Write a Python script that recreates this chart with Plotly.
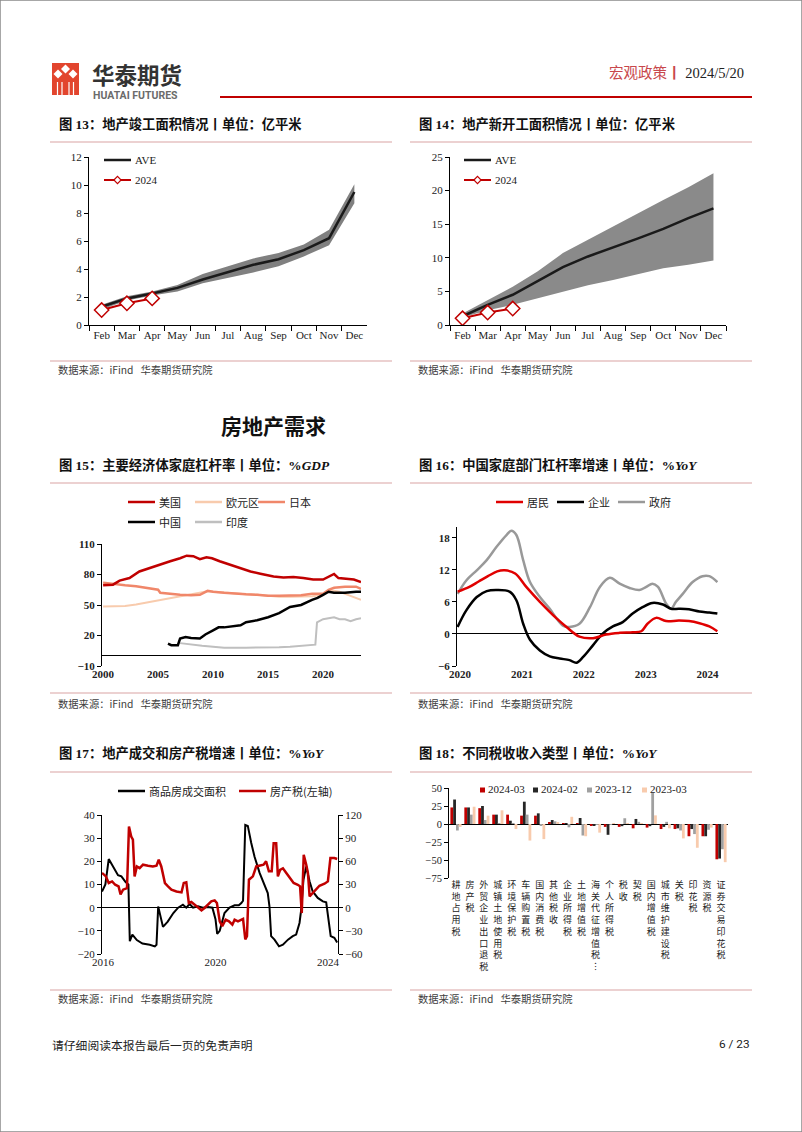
import plotly.graph_objects as go

W, H = 802, 1132
def fx(x): return x / W
def fy(y): return 1 - y / H

SERIF = "Liberation Serif, Noto Sans CJK SC"
SANS = "Noto Sans CJK SC, Noto Sans"
RED = "#C00000"
SEP = "#D9A3A3"
TXT = "#222222"

# ---------------- data ----------------
months = ["Feb", "Mar", "Apr", "May", "Jun", "Jul", "Aug", "Sep", "Oct", "Nov", "Dec"]
c13_ave = [1.3, 1.9, 2.25, 2.65, 3.25, 3.8, 4.3, 4.7, 5.35, 6.2, 9.5]
c13_low = [1.1, 1.75, 2.1, 2.4, 2.98, 3.35, 3.75, 4.2, 4.9, 5.7, 8.7]
c13_high = [1.45, 2.05, 2.4, 2.85, 3.65, 4.2, 4.75, 5.15, 5.75, 6.8, 10.05]
c13_2024 = [1.07, 1.55, 1.9]

c14_ave = [1.3, 3.0, 4.5, 6.5, 8.6, 10.2, 11.5, 12.9, 14.3, 15.9, 17.35]
c14_low = [1.1, 2.2, 3.0, 4.0, 5.0, 5.9, 6.7, 7.55, 8.45, 8.95, 9.6]
c14_high = [1.7, 3.7, 5.7, 8.0, 10.7, 12.7, 14.7, 16.7, 18.6, 20.5, 22.6]
c14_2024 = [1.0, 1.85, 2.45]

c15_us = [(2000.0, 69.5), (2000.9, 70), (2001.5, 74), (2002.4, 76.5), (2003.3, 83), (2004.25, 86.4),
          (2005.0, 89.7), (2006.1, 93), (2007.0, 96), (2007.6, 98.5), (2008.2, 98), (2008.8, 95),
          (2009.4, 97), (2009.9, 96), (2010.6, 93), (2011.5, 89.7), (2012.5, 85.7), (2013.4, 83),
          (2014.3, 80.8), (2015.0, 79), (2015.5, 78), (2016.4, 77), (2017.3, 77.5), (2018.2, 76.5),
          (2019.1, 75), (2020.0, 75), (2020.5, 78), (2021.0, 80.5), (2021.4, 76.5), (2022.2, 76),
          (2022.8, 75), (2023.45, 72.6)]
c15_ez = [(2000.0, 48.5), (2001.0, 48.5), (2002.0, 49), (2003.0, 50.5), (2004.0, 52.5), (2005.0, 55),
          (2006.0, 57), (2007.0, 59), (2008.0, 60.5), (2009.0, 62.5), (2009.5, 63.5), (2010.0, 63),
          (2011.0, 62), (2012.0, 61), (2013.0, 60.5), (2014.0, 60), (2015.0, 59), (2016.0, 58),
          (2017.0, 58), (2018.0, 58), (2019.0, 58.5), (2020.0, 60), (2020.5, 64), (2021.0, 64),
          (2021.5, 63), (2022.0, 61), (2022.5, 59), (2023.0, 57), (2023.45, 55)]
c15_jp = [(2000.0, 72), (2001.0, 70.5), (2002.0, 69.5), (2003.0, 68.5), (2004.0, 67), (2005.0, 65),
          (2005.2, 62), (2006.0, 61), (2007.0, 60), (2008.0, 59.5), (2008.8, 60), (2009.5, 64),
          (2010.0, 63), (2011.0, 62), (2012.0, 61), (2013.0, 60.5), (2014.0, 60), (2015.0, 59),
          (2016.0, 59), (2017.0, 59), (2018.0, 59.5), (2019.0, 61), (2020.0, 61), (2020.5, 65),
          (2021.0, 67), (2022.0, 68), (2023.0, 68), (2023.45, 66)]
c15_cn = [(2005.9, 12), (2006.2, 10.5), (2006.8, 10.5), (2007.0, 17), (2007.5, 18.5), (2008.0, 17.5),
          (2008.8, 17), (2009.3, 21), (2010.0, 25), (2010.5, 28), (2011.0, 28), (2012.0, 29),
          (2012.5, 30), (2013.0, 33), (2014.0, 35), (2015.0, 38), (2016.0, 42), (2017.0, 48),
          (2018.0, 50), (2019.0, 55), (2019.5, 57), (2020.0, 60), (2020.5, 63), (2021.0, 62),
          (2022.0, 62), (2023.0, 63), (2023.45, 63)]
c15_in = [(2007.0, 12.5), (2008.0, 11), (2009.0, 10), (2010.0, 9), (2011.0, 8), (2013.0, 8),
          (2015.0, 8), (2016.0, 8.5), (2017.0, 9), (2018.0, 10), (2019.3, 11), (2019.45, 33),
          (2020.0, 36), (2020.5, 37), (2021.0, 38), (2021.5, 36), (2022.0, 36), (2022.5, 34),
          (2023.0, 36), (2023.45, 37)]

c16_res = [(2019.96, 7.9), (2020.15, 8.8), (2020.3, 9.8), (2020.45, 10.8), (2020.6, 11.7), (2020.72, 11.9),
           (2020.89, 11.3), (2021.07, 8.8), (2021.29, 6.0), (2021.56, 2.9), (2021.72, 1.3), (2021.93, -0.5),
           (2022.15, -0.8), (2022.36, -0.1), (2022.58, 0.2), (2022.79, 0.3), (2022.93, 0.5), (2023.03, 1.9),
           (2023.17, 3.0), (2023.33, 2.4), (2023.54, 2.5), (2023.7, 2.4), (2023.87, 2.0), (2024.03, 1.4),
           (2024.16, 0.5)]
c16_ent = [(2019.96, 1.3), (2020.1, 4.4), (2020.27, 6.9), (2020.43, 8.0), (2020.59, 8.2), (2020.8, 7.9),
           (2020.91, 6.3), (2021.02, 1.9), (2021.13, -1.1), (2021.29, -3.1), (2021.45, -4.2), (2021.61, -4.6),
           (2021.77, -4.9), (2021.88, -5.4), (2021.99, -4.3), (2022.15, -2.1), (2022.31, 0.1), (2022.47, 1.4),
           (2022.63, 2.2), (2022.79, 3.8), (2022.95, 5.0), (2023.11, 5.8), (2023.28, 5.5), (2023.41, 4.7),
           (2023.54, 4.7), (2023.7, 4.6), (2023.87, 4.2), (2024.03, 4.0), (2024.16, 3.8)]
c16_gov = [(2019.96, 7.5), (2020.1, 10.0), (2020.27, 11.9), (2020.43, 13.8), (2020.59, 16.3), (2020.75, 18.5),
           (2020.83, 19.3), (2020.91, 18.5), (2021.02, 13.8), (2021.13, 9.7), (2021.29, 6.9), (2021.45, 4.7),
           (2021.56, 2.9), (2021.67, 1.5), (2021.77, 1.3), (2021.93, 1.9), (2022.1, 5.0), (2022.26, 8.8),
           (2022.42, 10.5), (2022.58, 9.4), (2022.74, 8.6), (2022.9, 8.2), (2023.01, 8.8), (2023.11, 9.4),
           (2023.2, 8.8), (2023.33, 5.7), (2023.41, 4.7), (2023.49, 6.0), (2023.6, 7.5), (2023.76, 9.7),
           (2023.92, 10.8), (2024.03, 10.8), (2024.16, 9.7)]

c17_area = [(2015.96, 7), (2016.08, 10), (2016.2, 21), (2016.4, 17), (2016.53, 14), (2016.65, 13.5),
            (2016.8, 11), (2016.9, 10), (2016.95, -14.5), (2017.04, -11.6), (2017.2, -14), (2017.4, -15.5),
            (2017.66, -16), (2017.84, -16.7), (2017.9, -16), (2017.96, 0.5), (2018.13, -8.3), (2018.3, -6),
            (2018.5, -2.3), (2018.67, 0), (2018.84, 1.3), (2018.96, 0), (2019.08, 1.6), (2019.2, 0),
            (2019.38, 0.6), (2019.55, 0), (2019.73, 0.3), (2019.89, 0), (2020.0, -5), (2020.06, -11.3),
            (2020.15, -10), (2020.32, -2.3), (2020.5, 0), (2020.68, 1), (2020.83, 1), (2020.92, 2),
            (2020.98, 3), (2021.06, 35.7), (2021.15, 35.3), (2021.27, 28), (2021.39, 22), (2021.57, 15),
            (2021.75, 9.2), (2021.86, 6.3), (2021.92, 0.6), (2021.98, -12.3), (2022.1, -13.8), (2022.26, -16.7),
            (2022.4, -16), (2022.58, -13.8), (2022.75, -12.3), (2022.87, -11.6), (2022.99, -6.6), (2023.05, -0.9),
            (2023.13, 12), (2023.23, 17.8), (2023.35, 11.3), (2023.46, 7), (2023.64, 4.2), (2023.82, 2.7),
            (2023.94, 2.3), (2024.03, -5), (2024.1, -12.3), (2024.23, -13), (2024.33, -15)]
c17_tax = [(2015.96, 45), (2016.1, 40.5), (2016.2, 32), (2016.32, 34), (2016.43, 29.7), (2016.55, 27.6),
           (2016.62, 17), (2016.71, 23.3), (2016.85, 25.4), (2016.92, 105), (2017.0, 92), (2017.06, 88),
           (2017.12, 40.5), (2017.2, 53.4), (2017.3, 51.2), (2017.42, 55.6), (2017.6, 54.3), (2017.77, 53.4),
           (2017.9, 54.3), (2017.98, 62), (2018.07, 53.4), (2018.2, 31.9), (2018.31, 27.6), (2018.43, 23.3),
           (2018.61, 21), (2018.79, 19.8), (2018.87, 31.9), (2018.96, 32.7), (2019.05, 6), (2019.14, 7.3),
           (2019.26, 3.9), (2019.38, -0.4), (2019.5, -3.4), (2019.61, -0.4), (2019.73, 3.9), (2019.85, 8.2),
           (2019.97, 9.5), (2020.05, 6), (2020.15, -17.7), (2020.24, -24), (2020.36, -15.5), (2020.48, -17.7),
           (2020.6, -22), (2020.68, -15.5), (2020.8, -17.7), (2020.98, -14.6), (2021.06, -41), (2021.12, -37),
           (2021.19, 36.2), (2021.33, 40.5), (2021.45, 53.4), (2021.59, 54.3), (2021.71, 55.6), (2021.8, 60),
           (2021.9, 47), (2022.0, 47), (2022.07, 83.5), (2022.16, 83.5), (2022.22, 40.5), (2022.3, 49),
           (2022.4, 51), (2022.52, 44.8), (2022.66, 38.3), (2022.78, 31.9), (2022.93, 29.7), (2023.01, 27.6),
           (2023.07, -7), (2023.14, 68.5), (2023.23, 55.6), (2023.29, 44.8), (2023.35, 14.6), (2023.46, 19),
           (2023.58, 23.3), (2023.7, 28.4), (2023.88, 31), (2024.0, 34), (2024.09, 64.2), (2024.23, 64.2),
           (2024.33, 63)]

c18_cats = ["耕地占用税", "房产税", "外贸企业出口退税", "城镇土地使用税", "环境保护税", "车辆购置税",
            "国内消费税", "其他税收", "企业所得税", "土地增值税", "海关代征增值税︙", "个人所得税", "税收",
            "契税", "国内增值税", "城市维护建设税", "关税", "印花税", "资源税", "证券交易印花税"]
c18_2024_03 = [23, 23, 22, 13, 13, 11.6, 11.6, 2.3, 1, 0.5, -2, -4, -4, -6, -5, -7, -7, -17, -17, -49]
c18_2024_02 = [34, 23, 25, 13, 4.6, 31, 14.8, 5.5, 0.3, 8.3, -2, -15, -3, 7, -3, -4, -6, -7, -17, -48]
c18_2023_12 = [-9, 13, 5.5, 0.5, 0.5, 13, -1.4, 3.7, -4.6, -16, -1, -1, 8, 3, 43, 3, -9, -14, -8, -35]
c18_2023_03 = [-4, 24, 11.6, 19, -7, -23, -21, 2.3, 10, -17, -12, 0.5, 0.5, 1, 12, -6, -20, -33, -5, -53]

def xs(pairs): return [p[0] for p in pairs]
def ys(pairs): return [p[1] for p in pairs]

fig = go.Figure()

# ---------------- charts 13 / 14 ----------------
for xa, ya, low, high, ave, y24, band in [
        ("x", "y", c13_low, c13_high, c13_ave, c13_2024, "#808080"),
        ("x2", "y2", c14_low, c14_high, c14_ave, c14_2024, "#8a8a8a")]:
    fig.add_trace(go.Scatter(x=months, y=low, mode="lines", line=dict(width=0, color=band),
                             hoverinfo="skip", xaxis=xa, yaxis=ya))
    fig.add_trace(go.Scatter(x=months, y=high, mode="lines", line=dict(width=0, color=band),
                             fill="tonexty", fillcolor=band, hoverinfo="skip", xaxis=xa, yaxis=ya))
    fig.add_trace(go.Scatter(x=months, y=ave, mode="lines", name="AVE",
                             line=dict(color="#1a1a1a", width=2.5), xaxis=xa, yaxis=ya))
    fig.add_trace(go.Scatter(x=months[:len(y24)], y=y24, mode="lines+markers", name="2024",
                             line=dict(color=RED, width=2),
                             marker=dict(symbol="diamond", size=11, color="white",
                                         line=dict(color=RED, width=1.5)),
                             xaxis=xa, yaxis=ya))

# ---------------- chart 15 ----------------
c15_style = {"欧元区": (c15_ez, "#F8CBAD", 2), "日本": (c15_jp, "#F0876A", 2.5),
             "印度": (c15_in, "#BFBFBF", 2), "中国": (c15_cn, "#000000", 2.5),
             "美国": (c15_us, "#C00000", 2.5)}
for name, (data, col, w) in c15_style.items():
    fig.add_trace(go.Scatter(x=xs(data), y=ys(data), mode="lines", name=name,
                             line=dict(color=col, width=w), xaxis="x3", yaxis="y3"))

# ---------------- chart 16 ----------------
c16_style = {"政府": (c16_gov, "#999999"), "企业": (c16_ent, "#000000"), "居民": (c16_res, "#E00000")}
for name, (data, col) in c16_style.items():
    fig.add_trace(go.Scatter(x=xs(data), y=ys(data), mode="lines", name=name, line_shape="spline",
                             line=dict(color=col, width=2.5), xaxis="x4", yaxis="y4"))

# ---------------- chart 17 ----------------
fig.add_trace(go.Scatter(x=xs(c17_tax), y=ys(c17_tax), mode="lines", name="房产税(左轴)",
                         line=dict(color=RED, width=2.5), xaxis="x5", yaxis="y6"))
fig.add_trace(go.Scatter(x=xs(c17_area), y=ys(c17_area), mode="lines", name="商品房成交面积",
                         line=dict(color="#000000", width=2), xaxis="x5", yaxis="y5"))

# ---------------- chart 18 ----------------
c18_style = [("2024-03", c18_2024_03, "#C00000"), ("2024-02", c18_2024_02, "#262626"),
             ("2023-12", c18_2023_12, "#A0A0A0"), ("2023-03", c18_2023_03, "#F8CBAD")]
for name, vals, col in c18_style:
    fig.add_trace(go.Bar(x=c18_cats, y=vals, name=name, marker=dict(color=col, line=dict(width=0)),
                         xaxis="x6", yaxis="y7"))

# ---------------- axes ----------------
def ax(**kw):
    d = dict(showgrid=False, zeroline=False, showline=True, linecolor="black", linewidth=1,
             ticks="outside", tickcolor="black", ticklen=4, automargin=False,
             tickfont=dict(family=SERIF, size=11, color=TXT), fixedrange=True)
    d.update(kw)
    return d

def zero_pos(dom, rng):
    # paper position of value 0 on a y axis with the given domain and range
    return dom[0] + (0 - rng[0]) / (rng[1] - rng[0]) * (dom[1] - dom[0])

boldtick = dict(family=SERIF, size=11, color=TXT, weight="bold")

d13y = [fy(325), fy(157)]
d15x, d15y, r15x, r15y = [fx(102), fx(361)], [fy(666), fy(544)], [1999.9, 2023.45], [-10, 110]
d16x, d16y, r16x, r16y = [fx(457), fx(718)], [fy(666), fy(527)], [2019.95, 2024.17], [-6, 20]
d17x, d17y, r17x = [fx(102), fx(338)], [fy(954), fy(815)], [2015.96, 2024.36]
d18x, d18y, r18y = [fx(449), fx(728)], [fy(878), fy(788)], [-75, 50]

layout_axes = dict(
    xaxis=ax(domain=[fx(89), fx(367)], anchor="y", type="category", range=[-0.5, 10.5],
             tickson="boundaries", ticklen=5, tickangle=0),
    yaxis=ax(domain=d13y, anchor="x", range=[0, 12], dtick=2),
    xaxis2=ax(domain=[fx(450), fx(726)], anchor="y2", type="category", range=[-0.5, 10.5],
              tickson="boundaries", ticklen=5, tickangle=0),
    yaxis2=ax(domain=d13y, anchor="x2", range=[0, 25], dtick=5),
    xaxis3=ax(domain=d15x, anchor="y3", range=r15x, showline=False,
              ticks="", tickvals=[2000, 2005, 2010, 2015, 2020], tickfont=boldtick),
    yaxis3=ax(domain=d15y, anchor="x3", range=r15y,
              tickvals=[-10, 20, 50, 80, 110], zeroline=True, zerolinecolor="black",
              zerolinewidth=1, tickfont=boldtick),
    xaxis4=ax(domain=d16x, anchor="y4", range=r16x, showline=False,
              ticks="", tickvals=[2020, 2021, 2022, 2023, 2024], tickfont=boldtick),
    yaxis4=ax(domain=d16y, anchor="x4", range=r16y,
              tickvals=[-6, 0, 6, 12, 18], zeroline=True, zerolinecolor="black",
              zerolinewidth=1, tickfont=boldtick),
    xaxis5=ax(domain=d17x, anchor="y5", range=r17x, showline=False,
              ticks="", tickvals=[2016, 2020, 2024]),
    yaxis5=ax(domain=d17y, anchor="x5", range=[-20, 40], dtick=10,
              zeroline=True, zerolinecolor="black", zerolinewidth=1),
    yaxis6=ax(domain=d17y, anchor="x5", overlaying="y5", side="right",
              range=[-60, 120], dtick=30),
    xaxis6=ax(domain=d18x, anchor="y7", type="category", range=[-0.5, 19.5],
              showline=False, ticks="", tickvals=c18_cats,
              ticktext=["<br>".join(list(c)) for c in c18_cats],
              tickfont=dict(family=SANS, size=9, color=TXT), tickangle=0),
    yaxis7=ax(domain=d18y, anchor="x6", range=r18y, dtick=25,
              zeroline=True, zerolinecolor="black", zerolinewidth=1,
              tickfont=dict(family=SERIF, size=10.5, color=TXT)),
    # tick marks sitting on the zero lines
    xaxis7=ax(overlaying="x3", anchor="free", position=zero_pos(d15y, r15y), range=r15x,
              showline=False, showticklabels=False, tickvals=[2005, 2010, 2015, 2020]),
    xaxis8=ax(overlaying="x4", anchor="free", position=zero_pos(d16y, r16y), range=r16x,
              showline=False, showticklabels=False, tickvals=[2021, 2022, 2023, 2024]),
    xaxis9=ax(overlaying="x6", anchor="free", position=zero_pos(d18y, r18y), type="category",
              range=[-0.5, 19.5], categoryarray=c18_cats, categoryorder="array",
              showline=False, showticklabels=False, tickson="boundaries",
              tickvals=c18_cats),
)

# ---------------- page decorations ----------------
shapes = []
annotations = []

def hline(x0, x1, y, color, width):
    shapes.append(dict(type="line", xref="paper", yref="paper", x0=fx(x0), x1=fx(x1),
                       y0=fy(y), y1=fy(y), line=dict(color=color, width=width)))

def text(x, y, s, size, color=TXT, family=SERIF, xanchor="left", bold=False):
    annotations.append(dict(x=fx(x), y=fy(y), xref="paper", yref="paper", text=(f"<b>{s}</b>" if bold else s),
                            showarrow=False, xanchor=xanchor, yanchor="middle",
                            font=dict(family=family, size=size, color=color)))

def diamond(cx, cy, r, fill, line_col, lw):
    path = (f"M {fx(cx - r)} {fy(cy)} L {fx(cx)} {fy(cy - r)} L {fx(cx + r)} {fy(cy)} "
            f"L {fx(cx)} {fy(cy + r)} Z")
    shapes.append(dict(type="path", xref="paper", yref="paper", path=path, fillcolor=fill,
                       line=dict(width=lw, color=line_col)))

def legend_key(x0, y, label, color, width, family, size=11, length=27, marker=False):
    hline(x0, x0 + length, y, color, width)
    if marker:
        diamond(x0 + length / 2, y, 3.6, "white", color, 1.2)
    text(x0 + length + 2, y, label, size, family=family)

# page border
shapes.append(dict(type="rect", xref="paper", yref="paper", x0=0, x1=1, y0=0, y1=1,
                   line=dict(color="#8a8a8a", width=1.5)))

# logo
shapes.append(dict(type="rect", xref="paper", yref="paper", x0=fx(52), x1=fx(79), y0=fy(95), y1=fy(63),
                   fillcolor="#E2452E", line=dict(width=0)))
for cx, cy in [(58, 74), (65.5, 69), (73, 74)]:
    diamond(cx, cy, 4.5, "white", "white", 0)
for lx in [57.5, 62, 69, 73.5]:
    shapes.append(dict(type="line", xref="paper", yref="paper", x0=fx(lx), x1=fx(lx), y0=fy(95),
                       y1=fy(82), line=dict(color="white", width=1.2)))

text(90, 74, "华泰期货", 22.5, color="#333333", family=SANS, bold=True)
text(91, 95, "HUATAI FUTURES", 10.5, color="#6b6b6b", family="Roboto, Noto Sans", bold=True)
annotations.append(dict(x=fx(746), y=fy(73), xref="paper", yref="paper", showarrow=False,
                        xanchor="right", yanchor="middle",
                        text='<span style="color:#C8474C">宏观政策</span><span style="color:#C8474C"><b>丨</b></span> 2024/5/20',
                        font=dict(family=SERIF, size=14.5, color="#222222")))
hline(220, 752, 97, "#C00000", 2)

# section titles
titles = [(57, 124, "图 13：地产竣工面积情况丨单位：亿平米"),
          (417, 124, "图 14：地产新开工面积情况丨单位：亿平米"),
          (57, 465, "图 15：主要经济体家庭杠杆率丨单位：%<i>GDP</i>"),
          (417, 465, "图 16：中国家庭部门杠杆率增速丨单位：%<i>YoY</i>"),
          (57, 753, "图 17：地产成交和房产税增速丨单位：%<i>YoY</i>"),
          (417, 753, "图 18：不同税收收入类型丨单位：%<i>YoY</i>")]
for x, y, s in titles:
    text(x, y, s, 13.3, color="#111111", bold=True)

for y in [142, 483, 772, 361, 693, 990]:
    hline(50, 392, y, SEP, 1.2)
    hline(410, 752, y, SEP, 1.2)
for y in [369, 703, 998]:
    text(56, y, "数据来源：iFind   华泰期货研究院", 10.3, color="#404040", family=SANS)
    text(416, y, "数据来源：iFind   华泰期货研究院", 10.3, color="#404040", family=SANS)

text(273, 425, "房地产需求", 21, color="#111111", family=SANS, xanchor="center", bold=True)

text(50, 1044, "请仔细阅读本报告最后一页的免责声明", 11.8, color="#222222", family=SANS)
text(752, 1044, "6 / 23", 11.8, color="#222222", family="Roboto, Noto Sans", xanchor="right")

# ---------------- legends (drawn as keys) ----------------
legend_key(104, 160, "AVE", "#1a1a1a", 2.5, SERIF)
legend_key(104, 180, "2024", RED, 2, SERIF, marker=True)
legend_key(464, 160, "AVE", "#1a1a1a", 2.5, SERIF)
legend_key(464, 180, "2024", RED, 2, SERIF, marker=True)

legend_key(128, 502, "美国", "#C00000", 2.5, SANS)
legend_key(195, 502, "欧元区", "#F8CBAD", 2.5, SANS)
legend_key(258, 502, "日本", "#F0876A", 2.5, SANS)
legend_key(128, 522, "中国", "#000000", 2.5, SANS)
legend_key(195, 522, "印度", "#BFBFBF", 2.5, SANS)

legend_key(496, 502, "居民", "#E00000", 2.5, SANS)
legend_key(557, 502, "企业", "#000000", 2.5, SANS)
legend_key(618, 502, "政府", "#999999", 2.5, SANS)

legend_key(118, 791, "商品房成交面积", "#000000", 2.5, SANS)
legend_key(239, 791, "房产税(左轴)", RED, 2.5, SANS)

for x, (name, vals, col) in zip([480, 533, 587, 642], c18_style):
    shapes.append(dict(type="rect", xref="paper", yref="paper", x0=fx(x), x1=fx(x + 5),
                       y0=fy(792.5), y1=fy(787.5), fillcolor=col, line=dict(width=0)))
    text(x + 6, 789, name, 11, family=SERIF)

fig.update_layout(
    width=W, height=H, margin=dict(l=0, r=0, t=0, b=0, autoexpand=False),
    paper_bgcolor="white", plot_bgcolor="white", showlegend=False,
    barmode="group", bargap=0.2, bargroupgap=0,
    shapes=shapes, annotations=annotations,
    **layout_axes,
)

fig.write_html("out.html", config={"displayModeBar": False},
               post_script="document.body.style.margin='0';")
